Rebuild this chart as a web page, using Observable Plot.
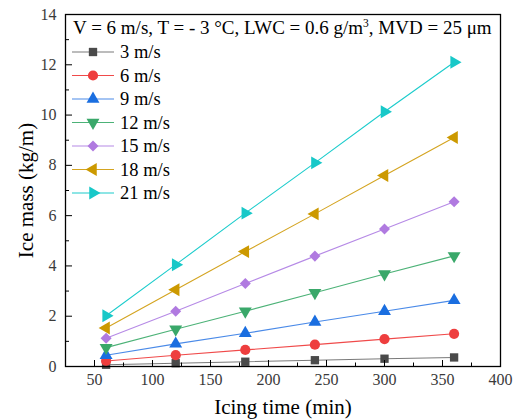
<!DOCTYPE html>
<html><head><meta charset="utf-8">
<script src="https://cdn.jsdelivr.net/npm/d3@7"></script>
<script src="https://cdn.jsdelivr.net/npm/@observablehq/plot@0.6"></script>
<style>
body{margin:0;background:#fff;}
#wrap{position:relative;width:521px;height:419px;}
#wrap svg{position:absolute;left:0;top:0;}
</style></head><body><div id="wrap"></div>
<script>
// ---- data ----
const times = [60, 120, 180, 240, 300, 360];
const seriesNames = ["3 m/s", "6 m/s", "9 m/s", "12 m/s", "15 m/s", "18 m/s", "21 m/s"];
const mass3  = [0.07, 0.13, 0.19, 0.25, 0.31, 0.36];
const mass6  = [0.22, 0.45, 0.66, 0.87, 1.09, 1.30];
const mass9  = [0.45, 0.90, 1.32, 1.77, 2.20, 2.63];
const mass12 = [0.75, 1.48, 2.20, 2.93, 3.68, 4.40];
const mass15 = [1.12, 2.20, 3.30, 4.39, 5.47, 6.55];
const mass18 = [1.53, 3.05, 4.57, 6.07, 7.60, 9.11];
const mass21 = [2.02, 4.05, 6.10, 8.10, 10.13, 12.10];
const allMass = [mass3, mass6, mass9, mass12, mass15, mass18, mass21];
const xTicks = [50, 100, 150, 200, 250, 300, 350, 400];
const xMinor = [75, 125, 175, 225, 275, 325, 375];
const yTicks = [0, 2, 4, 6, 8, 10, 12, 14];
const yMinor = [1, 3, 5, 7, 9, 11, 13];
const xTitle = "Icing time (min)";
const yTitle = "Ice mass (kg/m)";
const headerParts = ["V = 6 m/s, T = - 3 °C, LWC = 0.6 g/m", "3", ", MVD = 25 μm"];

// ---- styles ----
const lineColors   = ["#7a7a7a", "#f04a4a", "#4a8ae8", "#4cb277", "#b68ae6", "#d4a420", "#1ccccc"];
const markerColors = ["#4a4a4a", "#ee3e3e", "#1a6ee0", "#3aa86a", "#b07ae0", "#cc9900", "#18c8c8"];
const symbols = ["square", "circle", "triangle", "triangle", "square", "triangle", "triangle"];
const rotations = [0, 0, 0, 180, 45, -90, 90];
const radii = [4.7, 5.1, 4.8, 4.8, 4.4, 4.8, 4.8];
const FONT = "'Liberation Serif', 'Times New Roman', serif";

const rows = [];
seriesNames.forEach((s, i) => times.forEach((t, j) => rows.push({s, i, t, m: allMass[i][j]})));

const marks = [];
seriesNames.forEach((s, i) => {
  const d = rows.filter(r => r.i === i);
  marks.push(Plot.line(d, {x: "t", y: "m", stroke: lineColors[i], strokeWidth: 1.1}));
});
seriesNames.forEach((s, i) => {
  const d = rows.filter(r => r.i === i);
  marks.push(Plot.dot(d, {x: "t", y: "m", symbol: symbols[i], fill: markerColors[i], stroke: "none", r: radii[i], rotate: rotations[i]}));
});

const plot = Plot.plot({
  width: 521, height: 419,
  marginTop: 14, marginBottom: 53, marginLeft: 65, marginRight: 21,
  style: {fontFamily: FONT, background: "white", color: "black", overflow: "visible"},
  x: {domain: [25, 400]},
  y: {domain: [0, 14]},
  marks: [
    ...marks,
    Plot.axisX({ticks: xTicks, tickSize: 0, tickPadding: 7, fontSize: 16, fill: "#3a3a3a", label: null}),
    Plot.axisX({ticks: xTicks, tickSize: -6, text: null, label: null}),
    Plot.axisX({ticks: xMinor, tickSize: -3.5, text: null, label: null}),
    Plot.axisX({ticks: [], label: xTitle, labelAnchor: "center", labelOffset: 47, labelArrow: "none", fontSize: 21, fill: "black"}),
    Plot.axisY({ticks: yTicks, tickSize: 0, tickPadding: 9, fontSize: 16, fill: "#3a3a3a", label: null}),
    Plot.axisY({ticks: yTicks, tickSize: -7, text: null, label: null}),
    Plot.axisY({ticks: yMinor, tickSize: -4, text: null, label: null}),
    Plot.axisY({ticks: [], label: yTitle, labelAnchor: "center", labelOffset: 47, labelArrow: "none", fontSize: 21, fill: "black"}),
    Plot.frame({stroke: "black", strokeWidth: 1.3})
  ]
});
document.getElementById("wrap").appendChild(plot);

// ---- legend overlay ----
const svg = d3.select("#wrap").append("svg")
  .attr("width", 521).attr("height", 419)
  .style("font-family", FONT).style("pointer-events", "none");
const head = svg.append("text").attr("x", 73).attr("y", 34).attr("font-size", 19).attr("fill", "black");
head.append("tspan").text(headerParts[0]);
head.append("tspan").attr("font-size", 11.5).attr("dy", -7.5).text(headerParts[1]);
head.append("tspan").attr("dy", 7.5).text(headerParts[2]);

const symMap = {square: d3.symbolSquare, circle: d3.symbolCircle, triangle: d3.symbolTriangle};
seriesNames.forEach((s, i) => {
  const y = 52 + i * 23.5;
  svg.append("line").attr("x1", 72).attr("x2", 114).attr("y1", y).attr("y2", y)
    .attr("stroke", lineColors[i]).attr("stroke-width", 1.2);
  svg.append("path").attr("d", d3.symbol(symMap[symbols[i]], Math.PI * radii[i] * radii[i])())
    .attr("transform", `translate(93,${y}) rotate(${rotations[i]})`)
    .attr("fill", markerColors[i]);
  svg.append("text").attr("x", 120).attr("y", y + 6).attr("font-size", 18.5).attr("fill", "black").text(s);
});
</script></body></html>
